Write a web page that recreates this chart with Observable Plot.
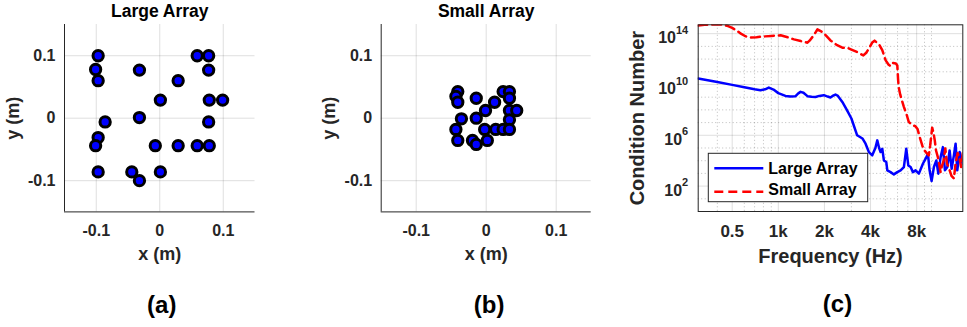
<!DOCTYPE html>
<html><head><meta charset="utf-8">
<script src="https://cdn.jsdelivr.net/npm/d3@7"></script>
<script src="https://cdn.jsdelivr.net/npm/@observablehq/plot@0.6"></script>
<style>
body{margin:0;background:#fff;}
#fig{position:relative;width:967px;height:327px;overflow:hidden;background:#fff;}
#fig svg{position:absolute;top:0;}
</style></head><body><div id="fig"></div>
<script>
// ---- data ----
const largeX = [-0.097,-0.101,-0.097,-0.032,0.029,0.059,0.077,0.077,0.001,0.078,0.099,-0.086,-0.032,0.077,-0.097,-0.101,-0.007,0.029,0.059,0.078,-0.097,-0.044,-0.032,0.001];
const largeY = [0.1,0.078,0.06,0.077,0.06,0.1,0.1,0.077,0.029,0.029,0.029,-0.006,0.001,-0.006,-0.031,-0.044,-0.044,-0.044,-0.044,-0.044,-0.086,-0.086,-0.1,-0.086];
const smallX = [-0.0406,-0.0433,-0.0406,-0.0142,-0.001,0.012,0.0242,0.0332,0.0332,0.0332,0.0436,-0.0354,-0.0142,0.0332,-0.0433,-0.0022,0.0136,0.0242,0.0332,-0.0406,-0.0196,-0.0142,0.0016];
const smallY = [0.0426,0.035,0.0255,0.0319,0.0123,0.0255,0.0426,0.0426,0.0319,0.0123,0.0123,-0.001,0,-0.0026,-0.018,-0.018,-0.018,-0.018,-0.018,-0.0356,-0.0356,-0.042,-0.0356];

const largeFreq = [300,400,500,600,700,765,820,867,930,1000,1113,1200,1296,1350,1397,1460,1549,1650,1748,1850,1983,2100,2190,2280,2360,2450,2617,2800,3000,3270,3540,3711,3900,4104,4300,4426,4550,4650,4770,4887,5067,5145,5405,5680,5980,6282,6600,6842,7053,7302,7560,7872,8271,8784,9150,9471,9714,10011,10365,10749,11073,11463,11868,12231,12678,13122,13527,13998,14358,14730,15252,15957];
const largeCondExp = [10.47,10.19,9.97,9.78,9.62,9.55,9.62,9.76,9.6,9.32,9.1,9.05,9.08,9.3,9.42,9.35,9.08,9.04,9.02,9.1,9.16,9.05,8.98,9.12,9.21,9.1,8.63,8.0,7.32,6.0,5.75,5.34,4.68,4.42,5.0,5.6,5.0,4.68,4.94,4.02,3.89,3.24,3.1,2.92,3.1,3.24,3.5,4.94,3.63,3.5,3.1,3.24,2.98,3.76,4.16,4.55,3.24,2.4,3.5,4.02,2.98,4.28,5.07,3.24,3.5,4.81,3.37,4.42,5.34,3.24,4.68,3.76];
const smallFreq = [300,330,390,430,470,500,530,570,610,660,720,800,900,1036,1150,1265,1400,1549,1600,1668,1750,1800,1940,2050,2190,2400,2617,2820,3000,3270,3590,3750,3900,4100,4250,4400,4550,4770,5020,5250,5400,5600,5850,5980,6050,6100,6250,6400,6600,6900,7100,7400,7870,8100,8400,8700,8900,9300,9600,9800,10100,10300,10500,10700,11000,11460,11700,12000,12300,12600,13000,13500,14000,14360,14800,15250,15600,16000];
const smallCondExp = [14.65,14.7,14.73,14.73,14.6,14.45,14.28,14.0,13.8,13.7,13.72,13.78,13.82,13.87,13.72,13.55,13.42,13.29,13.45,13.73,14.1,14.34,14.13,13.85,13.47,13.12,12.9,12.9,12.75,12.55,12.29,12.5,12.82,13.3,13.45,13.3,13.15,12.7,11.9,11.55,11.45,11.7,11.65,11.5,10.4,9.8,9.2,8.76,8.24,7.58,7.06,6.85,6.7,6.5,5.8,5.2,4.87,4.6,4.42,5.2,6.6,6.2,5.6,4.8,4.28,3.1,3.6,4.0,4.97,3.8,3.4,2.8,2.6,3.8,4.6,4.2,3.5,4.6];

const posTicks = [-0.1, 0, 0.1];
const posTickLabels = ["-0.1", "0", "0.1"];
const freqTicks = [500, 1000, 2000, 4000, 8000];
const freqTickLabels = ["0.5", "1k", "2k", "4k", "8k"];
const freqMinor = [400, 600, 700, 800, 900, 3000, 5000, 6000, 7000, 9000, 10000];
const condTicks = [1e2, 1e6, 1e10, 1e14];
const condTickLabels = ["10^2", "10^6", "10^10", "10^14"];
const condMinor = [1e1, 1e3, 1e4, 1e5, 1e7, 1e8, 1e9, 1e11, 1e12, 1e13];
const seriesNames = ["Large Array", "Small Array"];

// ---- drawing ----
const FONT = "'Liberation Sans', Arial, Helvetica, sans-serif";
const AX = "#262626";
const fig = document.getElementById("fig");

function arrayPanel(xs, ys, title, left, ml, mr, letter, letterDx) {
  const data = xs.map((x, i) => ({x, y: ys[i]}));
  const svg = Plot.plot({
    width: 320, height: 327,
    marginLeft: ml, marginRight: mr, marginTop: 24, marginBottom: 115.6,
    style: {fontFamily: FONT, fontWeight: "bold", fontSize: "16px", color: AX, background: "transparent", overflow: "visible"},
    x: {domain: [-0.15, 0.15]},
    y: {domain: [-0.15, 0.15]},
    marks: [
      Plot.gridX(posTicks, {stroke: AX, strokeOpacity: 0.15}),
      Plot.gridY(posTicks, {stroke: AX, strokeOpacity: 0.15}),
      Plot.ruleX([-0.15], {stroke: AX, strokeWidth: 1}),
      Plot.ruleY([-0.15], {stroke: AX, strokeWidth: 1}),
      Plot.axisX(posTicks, {tickSize: 0, tickPadding: 13, fontSize: 16, label: null,
        tickFormat: d => posTickLabels[posTicks.indexOf(d)]}),
      Plot.axisY(posTicks, {tickSize: 0, tickPadding: 9, fontSize: 16, label: null,
        tickFormat: d => posTickLabels[posTicks.indexOf(d)]}),
      Plot.dot(data, {x: "x", y: "y", r: 5.15, fill: "#0000ff", stroke: "#000", strokeWidth: 3}),
      Plot.text([title], {text: d => d, frameAnchor: "top", dy: -8, lineAnchor: "bottom", fontSize: 17.5, fill: "#000"}),
      Plot.text(["x (m)"], {text: d => d, frameAnchor: "bottom", dy: 48, lineAnchor: "bottom", fontSize: 18, fill: AX}),
      Plot.text(["y (m)"], {text: d => d, frameAnchor: "left", dx: -46, rotate: -90, textAnchor: "middle", lineAnchor: "bottom", fontSize: 18, fill: AX}),
      Plot.text([letter], {text: d => d, frameAnchor: "bottom", dx: letterDx, dy: 100.6, lineAnchor: "bottom", fontSize: 24, fill: "#000"})
    ]
  });
  svg.style.left = left + "px";
  fig.appendChild(svg);
}

arrayPanel(largeX, largeY, "Large Array", 0, 64, 65.5, "(a)", 2);
arrayPanel(smallX, smallY, "Small Array", 320, 60.7, 49.3, "(b)", 3);

// panel (c)
const largeData = largeFreq.map((f, i) => ({f, c: Math.pow(10, largeCondExp[i])}));
const smallData = smallFreq.map((f, i) => ({f, c: Math.pow(10, smallCondExp[i])}));

const svgC = Plot.plot({
  width: 367, height: 327,
  marginLeft: 97.7, marginRight: 4.7, marginTop: 24.3, marginBottom: 116,
  style: {fontFamily: FONT, fontWeight: "bold", fontSize: "17px", color: AX, background: "transparent", overflow: "visible"},
  x: {type: "log", domain: [300, 16000], axis: null},
  y: {type: "log", domain: [1, 5e14]},
  marks: [
    Plot.ruleX(freqMinor, {stroke: AX, strokeOpacity: 0.3, strokeDasharray: "1,2.5"}),
    Plot.ruleY(condMinor, {stroke: AX, strokeOpacity: 0.3, strokeDasharray: "1,2.5"}),
    Plot.gridX(freqTicks, {stroke: AX, strokeOpacity: 0.15}),
    Plot.gridY(condTicks, {stroke: AX, strokeOpacity: 0.15}),
    Plot.line(largeData, {x: "f", y: "c", stroke: "#0000ff", strokeWidth: 2.5, clip: true}),
    Plot.line(smallData, {x: "f", y: "c", stroke: "#ff0000", strokeWidth: 2.5, strokeDasharray: "9,5", clip: true}),
    Plot.frame({stroke: AX, strokeWidth: 1}),
    // x tick labels drawn through the x scale (a log axis would hide non-decade labels)
    Plot.text(freqTicks, {x: d => d, text: d => freqTickLabels[freqTicks.indexOf(d)], frameAnchor: "bottom", dy: 13, lineAnchor: "top", fontSize: 17, fill: AX}),
    Plot.axisY(condTicks, {tickSize: 0, tickPadding: 10, fontSize: 16, label: null,
      tickFormat: d => condTickLabels[condTicks.indexOf(d)]}),
    Plot.text(["Frequency (Hz)"], {text: d => d, frameAnchor: "bottom", dy: 51.5, lineAnchor: "bottom", fontSize: 20, fill: AX}),
    Plot.text(["Condition Number"], {text: d => d, frameAnchor: "left", dx: -54.4, rotate: -90, textAnchor: "middle", lineAnchor: "bottom", fontSize: 20, fill: AX}),
    Plot.text(["(c)"], {text: d => d, frameAnchor: "bottom", dx: 7, dy: 100.6, lineAnchor: "bottom", fontSize: 24, fill: "#000"})
  ]
});
svgC.style.left = "600px";
fig.appendChild(svgC);

// superscript exponents on y tick labels
const NS = "http://www.w3.org/2000/svg";
d3.select(svgC).selectAll('g[aria-label="y-axis tick label"] text').each(function () {
  const parts = this.textContent.split("^");
  if (parts.length < 2) return;
  this.textContent = "";
  this.setAttribute("y", "0.6em");
  const b = document.createElementNS(NS, "tspan");
  b.textContent = parts[0];
  const e = document.createElementNS(NS, "tspan");
  e.textContent = parts[1];
  e.setAttribute("font-size", "11");
  e.setAttribute("dy", "-9.5");
  this.appendChild(b);
  this.appendChild(e);
});

// legend
const lg = d3.select(svgC).append("g").attr("font-family", FONT).attr("font-weight", "bold").attr("font-size", 16).attr("text-anchor", "start");
lg.append("rect").attr("x", 108.3).attr("y", 153.3).attr("width", 159.4).attr("height", 48.4)
  .attr("fill", "#fff").attr("stroke", AX).attr("stroke-width", 1);
const legendStyles = [{stroke: "#0000ff", dash: null, y: 168.3, ty: 173.5}, {stroke: "#ff0000", dash: "9,5", y: 191.7, ty: 195}];
seriesNames.forEach((name, i) => {
  const s = legendStyles[i];
  lg.append("line").attr("x1", 114.3).attr("x2", 163.3).attr("y1", s.y).attr("y2", s.y)
    .attr("stroke", s.stroke).attr("stroke-width", 2.5).attr("stroke-dasharray", s.dash);
  lg.append("text").attr("x", 168.3).attr("y", s.ty).attr("text-anchor", "start").attr("fill", "#000").text(name);
});
</script></body></html>
